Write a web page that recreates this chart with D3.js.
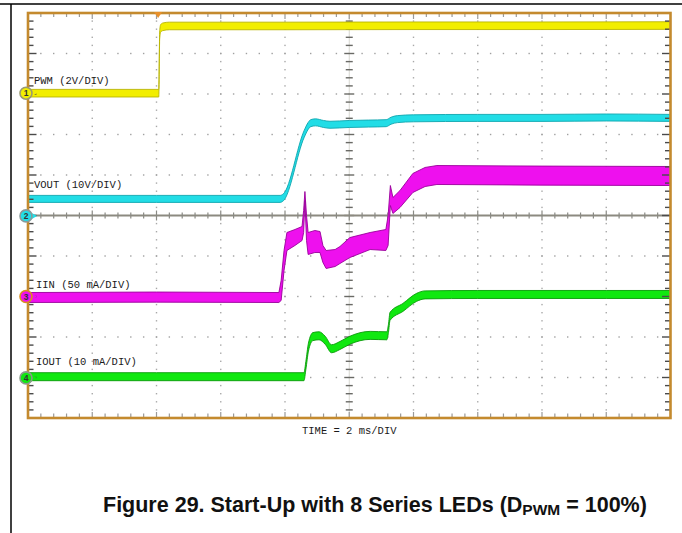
<!DOCTYPE html>
<html>
<head>
<meta charset="utf-8">
<script src="https://cdn.jsdelivr.net/npm/d3@7"></script>
<style>
  html, body { margin: 0; padding: 0; background: #ffffff; }
  svg { display: block; }
</style>
</head>
<body>
<svg id="chart" width="682" height="533"></svg>
<script>
// ---------------- DATA ----------------
// time axis: 0..20 ms (10 divisions, 2 ms/DIV)
const timeDomain = [0, 20];
const divisionsX = 10;
const divisionsY = 10;

// Channel 1: PWM (V)
const pwmT = [0, 4.07, 4.10, 4.13, 4.2, 4.4, 8, 12, 16, 20];
const pwmV = [0.0, 0.0, 2.9, 3.2, 3.28, 3.32, 3.32, 3.33, 3.33, 3.34];

// Channel 2: VOUT (V)
const voutT = [0, 4, 7.85, 7.95, 8.6, 8.72, 8.8, 8.95, 9.2, 9.4, 10.0, 10.6, 11.15, 11.3, 11.5, 12.0, 14, 16, 18, 20];
const voutV = [4.2, 4.2, 4.2, 4.6, 20.3, 22.2, 22.9, 23.1, 22.7, 22.5, 22.7, 22.8, 22.9, 23.5, 23.9, 24.1, 24.2, 24.2, 24.3, 24.2];

// Channel 3: IIN (mA) - envelope of the noisy band
const iinT    = [0, 4, 7.81, 7.88, 7.97, 8.06, 8.31, 8.53, 8.58, 8.62, 8.67, 8.72, 8.93, 9.09, 9.18, 9.28, 9.56, 9.71, 10.02, 10.65, 11.14, 11.21, 11.28, 11.36, 11.58, 11.98, 12.36, 12.73, 16, 20];
const iinHigh = [4.9, 5.5, 4.9, 19.8, 56.8, 79.0, 82.7, 86.4, 106.2, 129.6, 100.0, 79.0, 81.5, 80.2, 63.0, 56.8, 58.0, 61.7, 72.8, 79.0, 82.7, 100.0, 137.0, 122.2, 130.9, 151.9, 159.3, 161.7, 161.0, 160.5];
const iinLow  = [-7.4, -7.0, -7.4, -4.9, 32.1, 56.8, 63.0, 69.1, 79.0, 118.5, 69.1, 51.9, 54.3, 54.3, 42.0, 34.6, 37.0, 40.7, 48.1, 58.0, 56.8, 63.0, 112.3, 102.5, 109.9, 128.4, 135.8, 138.3, 137.5, 137.0];

// Channel 4: IOUT (mA)
const ioutT = [0, 4, 8, 8.59, 8.65, 8.73, 8.87, 9.06, 9.25, 9.45, 9.71, 10.02, 10.65, 11.17, 11.22, 11.27, 11.67, 12.10, 12.36, 14, 16, 18, 20];
const ioutI = [0.3, 0.3, 0.3, 0.3, 3.1, 7.6, 10.2, 10.4, 9.3, 7.2, 8.0, 9.3, 10.5, 10.4, 12.2, 15.2, 17.4, 19.9, 20.5, 20.6, 20.6, 20.6, 20.6];

// Labels
const channelLabels = ["PWM (2V/DIV)", "VOUT (10V/DIV)", "IIN (50 mA/DIV)", "IOUT (10 mA/DIV)"];
const channelNumbers = ["1", "2", "3", "4"];
const timeLabel = "TIME = 2 ms/DIV";
const triggerTime = 4.05;
const captionMain = "Figure 29. Start-Up with 8 Series LEDs (D";
const captionSub = "PWM";
const captionEnd = " = 100%)";

// ---------------- LAYOUT / STYLE ----------------
const plot = { left: 28, right: 670.5, top: 13, bottom: 418 };
const svg = d3.select("#chart");

const x = d3.scaleLinear().domain(timeDomain).range([plot.left, plot.right]);
const yDiv = d3.scaleLinear().domain([0, divisionsY]).range([plot.bottom, plot.top]);

// channel offsets (divisions from bottom) and units per division
const channels = [
  { offset: 8.02, perDiv: 2,  fill: "#f2ee00", edge: "#b9b400", marker: "#f2ee00", ring: "#9a9a70", half: 3.8 },
  { offset: 4.99, perDiv: 10, fill: "#22dde6", edge: "#0fa5ae", marker: "#22dde6", ring: "#8a9a9a", half: 3.5 },
  { offset: 3.0,  perDiv: 50, fill: "#ee10ee", edge: "#98009a", marker: "#ee10ee", ring: "#d8901c", half: 0 },
  { offset: 0.99, perDiv: 10, fill: "#10e810", edge: "#089a08", marker: "#10e810", ring: "#8a9a8a", half: 4.0 }
];
const yCh = (ci, v) => yDiv(channels[ci].offset + v / channels[ci].perDiv);

// frame lines of the page
svg.append("line").attr("x1", 0).attr("x2", 682).attr("y1", 4).attr("y2", 4)
  .attr("stroke", "#000").attr("stroke-width", 1.5);
svg.append("line").attr("x1", 11).attr("x2", 11).attr("y1", 4).attr("y2", 533)
  .attr("stroke", "#000").attr("stroke-width", 1.5);

// plot background
svg.append("rect").attr("x", plot.left).attr("y", plot.top)
  .attr("width", plot.right - plot.left).attr("height", plot.bottom - plot.top)
  .attr("fill", "#ffffff");

const grid = svg.append("g");
const minorX = d3.range(0, divisionsX * 5 + 1).map(i => timeDomain[0] + i * (timeDomain[1] - timeDomain[0]) / (divisionsX * 5));
const minorY = d3.range(0, divisionsY * 5 + 1).map(j => j / 5);

// dotted grid lines (vertical)
d3.range(1, divisionsX).filter(k => k !== 5).forEach(k => {
  const gx = x(k * 2);
  grid.selectAll(null).data(minorY.slice(1, -1)).enter().append("rect")
    .attr("x", gx - 0.7).attr("y", d => yDiv(d) - 0.7)
    .attr("width", 1.4).attr("height", 1.4).attr("fill", "#a8a8a8");
});
// dotted grid lines (horizontal)
d3.range(1, divisionsY).filter(k => k !== 5).forEach(k => {
  const gy = yDiv(k);
  grid.selectAll(null).data(minorX.slice(1, -1)).enter().append("rect")
    .attr("x", d => x(d) - 0.7).attr("y", gy - 0.7)
    .attr("width", 1.4).attr("height", 1.4).attr("fill", "#a0a0a0");
});

// center axes
const cy = yDiv(5), cx = x(10);
grid.append("line").attr("x1", cx).attr("x2", cx).attr("y1", plot.top).attr("y2", plot.bottom)
  .attr("stroke", "#d6d6d0").attr("stroke-width", 1);
grid.selectAll(null).data(minorY.slice(1, -1)).enter().append("line")
  .attr("x1", (d, i) => cx - (((i + 1) % 5 === 0) ? 5 : 3.5))
  .attr("x2", (d, i) => cx + (((i + 1) % 5 === 0) ? 5 : 3.5))
  .attr("y1", d => yDiv(d)).attr("y2", d => yDiv(d))
  .attr("stroke", "#6a6a66").attr("stroke-width", 1.4);
grid.append("line").attr("x1", plot.left).attr("x2", plot.right).attr("y1", cy).attr("y2", cy)
  .attr("stroke", "#8c8a80").attr("stroke-width", 2);
grid.selectAll(null).data(minorX.slice(1, -1)).enter().append("line")
  .attr("x1", d => x(d)).attr("x2", d => x(d))
  .attr("y1", (d, i) => cy - (((i + 1) % 5 === 0) ? 5 : 3))
  .attr("y2", (d, i) => cy + (((i + 1) % 5 === 0) ? 5 : 3))
  .attr("stroke", "#8a8a84").attr("stroke-width", 1.2);

// channel labels (under traces)
const labelPos = [[34, 84], [34, 188], [36, 288], [36, 365]];
svg.selectAll(null).data(channelLabels).enter().append("text")
  .attr("x", (d, i) => labelPos[i][0]).attr("y", (d, i) => labelPos[i][1])
  .attr("font-family", "'Liberation Mono', 'DejaVu Sans Mono', monospace")
  .attr("font-size", "10.5px").attr("fill", "#1a1a1a")
  .text(d => d);

// ---------------- TRACES ----------------
const traces = svg.append("g");
function bandTrace(ci, ts, vs) {
  const c = channels[ci];
  const data = ts.map((t, i) => ({ t, v: vs[i] }));
  const area = d3.area()
    .x(d => x(d.t))
    .y0(d => yCh(ci, d.v) + c.half)
    .y1(d => yCh(ci, d.v) - c.half)
    .curve(d3.curveMonotoneX);
  traces.append("path").datum(data).attr("d", area)
    .attr("fill", c.fill).attr("stroke", c.edge).attr("stroke-width", 0.9);
}
bandTrace(0, pwmT, pwmV);
bandTrace(1, voutT, voutV);

// IIN as envelope band
(function () {
  const c = channels[2];
  const data = iinT.map((t, i) => ({ t, hi: iinHigh[i], lo: iinLow[i] }));
  const area = d3.area()
    .x(d => x(d.t))
    .y0(d => yCh(2, d.lo))
    .y1(d => yCh(2, d.hi))
    .curve(d3.curveLinear);
  traces.append("path").datum(data).attr("d", area)
    .attr("fill", c.fill).attr("stroke", c.edge).attr("stroke-width", 0.9);
})();

bandTrace(3, ioutT, ioutI);

// ---------------- BORDER + BORDER TICKS ----------------
const border = svg.append("g");
border.selectAll(null).data(minorY.slice(1, -1)).enter().append("line")
  .attr("x1", plot.left).attr("x2", (d, i) => plot.left + (((i + 1) % 5 === 0) ? 8.5 : 5.5))
  .attr("y1", d => yDiv(d)).attr("y2", d => yDiv(d))
  .attr("stroke", "#4a4a4a").attr("stroke-width", 1.4);
border.selectAll(null).data(minorY.slice(1, -1)).enter().append("line")
  .attr("x1", plot.right).attr("x2", (d, i) => plot.right - (((i + 1) % 5 === 0) ? 8.5 : 5.5))
  .attr("y1", d => yDiv(d)).attr("y2", d => yDiv(d))
  .attr("stroke", "#4a4a4a").attr("stroke-width", 1.4);
border.selectAll(null).data(minorX.slice(1, -1)).enter().append("line")
  .attr("x1", d => x(d)).attr("x2", d => x(d))
  .attr("y1", plot.top).attr("y2", (d, i) => plot.top + (((i + 1) % 5 === 0) ? 6 : 4))
  .attr("stroke", "#9a9a9a").attr("stroke-width", 1.2);
border.selectAll(null).data(minorX.slice(1, -1)).enter().append("line")
  .attr("x1", d => x(d)).attr("x2", d => x(d))
  .attr("y1", plot.bottom).attr("y2", (d, i) => plot.bottom - (((i + 1) % 5 === 0) ? 6 : 4.5))
  .attr("stroke", "#9a9a9a").attr("stroke-width", 1.2);
border.append("rect").attr("x", plot.left).attr("y", plot.top)
  .attr("width", plot.right - plot.left).attr("height", plot.bottom - plot.top)
  .attr("fill", "none").attr("stroke", "#c48a2e").attr("stroke-width", 2.6);

// trigger marker
const tx = x(triggerTime);
border.append("path")
  .attr("d", `M${tx - 4},${plot.top - 1} L${tx + 4},${plot.top - 1} L${tx},${plot.top + 5} Z`)
  .attr("fill", "#e8902a");

// channel markers
const markers = svg.append("g");
channels.forEach((c, i) => {
  const my = yDiv(c.offset);
  markers.append("path")
    .attr("d", `M${31},${my - 3.5} L${37},${my} L${31},${my + 3.5} Z`)
    .attr("fill", c.marker);
  markers.append("circle").attr("cx", 26).attr("cy", my).attr("r", 6)
    .attr("fill", c.marker).attr("stroke", c.ring).attr("stroke-width", 1.6);
  markers.append("text").attr("x", 26).attr("y", my + 3)
    .attr("text-anchor", "middle")
    .attr("font-family", "'Liberation Sans', Arial, sans-serif")
    .attr("font-weight", "bold").attr("font-size", "8.5px").attr("fill", "#333")
    .text(channelNumbers[i]);
});

// time label
svg.append("text").attr("x", x(10)).attr("y", 434)
  .attr("text-anchor", "middle")
  .attr("font-family", "'Liberation Mono', 'DejaVu Sans Mono', monospace")
  .attr("font-size", "10.5px").attr("fill", "#1a1a1a")
  .text(timeLabel);

// caption
const cap = svg.append("text").attr("x", 103).attr("y", 512)
  .attr("font-family", "'Liberation Sans', Arial, sans-serif")
  .attr("font-weight", "bold").attr("font-size", "21.5px").attr("fill", "#111");
cap.append("tspan").text(captionMain);
cap.append("tspan").attr("font-size", "15.5px").attr("dy", 3).text(captionSub);
cap.append("tspan").attr("dy", -3).text(captionEnd);
</script>
</body>
</html>
